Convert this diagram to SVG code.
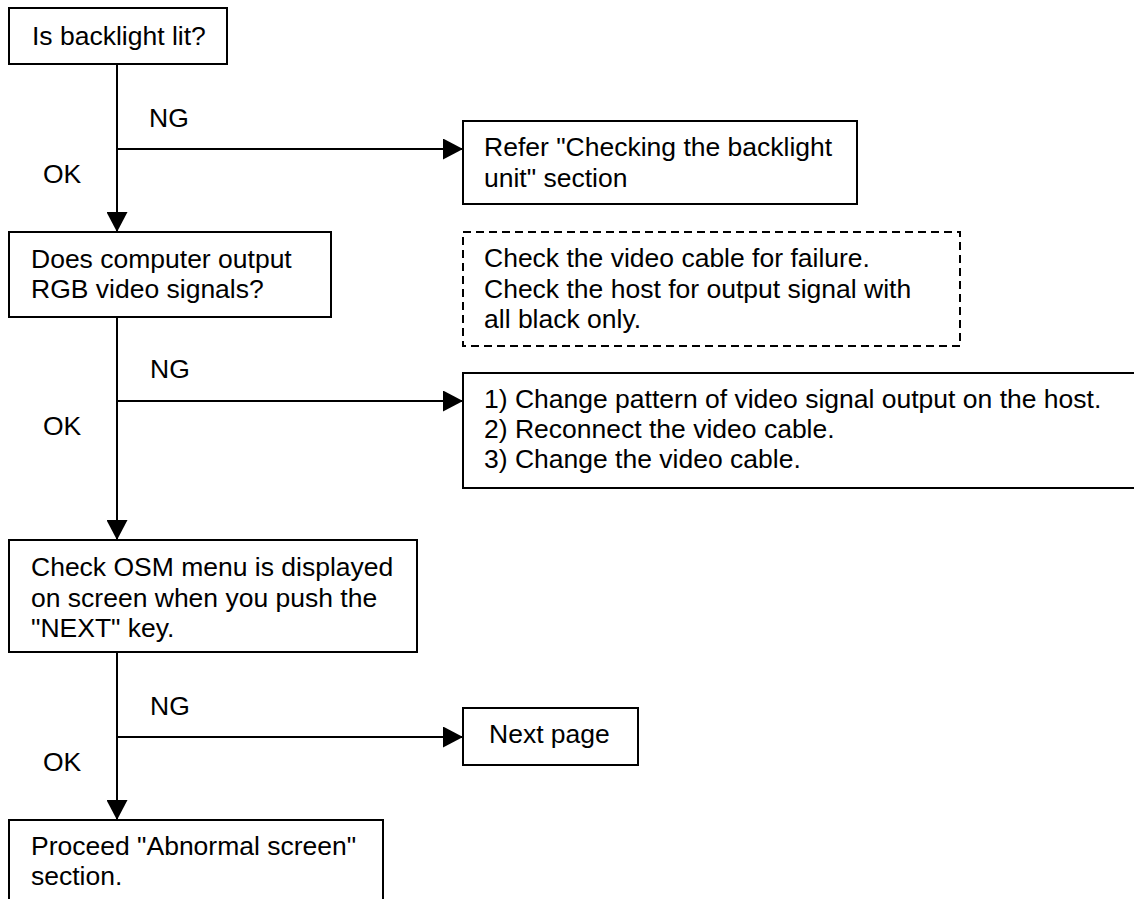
<svg xmlns="http://www.w3.org/2000/svg" width="1134" height="899" viewBox="0 0 1134 899">
<defs>
<style>
.box{fill:#fff;stroke:#000;stroke-width:2}
.dash{fill:#fff;stroke:#000;stroke-width:2;stroke-dasharray:8,5}
.ln{fill:none;stroke:#000;stroke-width:2}
text{font-family:"Liberation Sans",Arial,sans-serif;font-size:26.5px;fill:#000}
</style>
<marker id="arr" viewBox="0 0 20 21" refX="20" refY="10.5" markerWidth="20" markerHeight="21" markerUnits="userSpaceOnUse" orient="auto">
<path d="M0,0 L20,10.5 L0,21 Z" fill="#000"/>
</marker>
</defs>
<rect width="1134" height="899" fill="#fff"/>
<g id="connectors">
<line class="ln" x1="117" y1="64" x2="117" y2="232" marker-end="url(#arr)"/>
<line class="ln" x1="117" y1="149" x2="463" y2="149" marker-end="url(#arr)"/>
<line class="ln" x1="117" y1="317" x2="117" y2="540" marker-end="url(#arr)"/>
<line class="ln" x1="117" y1="401" x2="463" y2="401" marker-end="url(#arr)"/>
<line class="ln" x1="117" y1="652" x2="117" y2="820" marker-end="url(#arr)"/>
<line class="ln" x1="117" y1="737" x2="463" y2="737" marker-end="url(#arr)"/>
<text x="149" y="127">NG</text>
<text x="43" y="183">OK</text>
<text x="150" y="378">NG</text>
<text x="43" y="435">OK</text>
<text x="150" y="715">NG</text>
<text x="43" y="771">OK</text>
</g>
<g id="n1">
<rect class="box" x="9" y="8" width="218" height="56"/>
<text x="32" y="45">Is backlight lit?</text>
</g>
<g id="n2">
<rect class="box" x="463" y="121" width="394" height="83"/>
<text x="484" y="156">Refer "Checking the backlight</text>
<text x="484" y="187">unit" section</text>
</g>
<g id="n3">
<rect class="box" x="9" y="232" width="322" height="85"/>
<text x="31" y="268">Does computer output</text>
<text x="31" y="298">RGB video signals?</text>
</g>
<g id="n4">
<rect class="dash" x="463" y="232" width="497" height="114"/>
<text x="484" y="267">Check the video cable for failure.</text>
<text x="484" y="297.5">Check the host for output signal with</text>
<text x="484" y="328">all black only.</text>
</g>
<g id="n5">
<rect class="box" x="463" y="373" width="690" height="115"/>
<text x="484" y="408">1) Change pattern of video signal output on the host.</text>
<text x="484" y="438">2) Reconnect the video cable.</text>
<text x="484" y="468">3) Change the video cable.</text>
</g>
<g id="n6">
<rect class="box" x="9" y="540" width="408" height="112"/>
<text x="31" y="576">Check OSM menu is displayed</text>
<text x="31" y="607">on screen when you push the</text>
<text x="31" y="637">"NEXT" key.</text>
</g>
<g id="n7">
<rect class="box" x="463" y="708" width="175" height="57"/>
<text x="489" y="743">Next page</text>
</g>
<g id="n8">
<rect class="box" x="9" y="820" width="374" height="100"/>
<text x="31" y="855">Proceed "Abnormal screen"</text>
<text x="31" y="885">section.</text>
</g>
</svg>
